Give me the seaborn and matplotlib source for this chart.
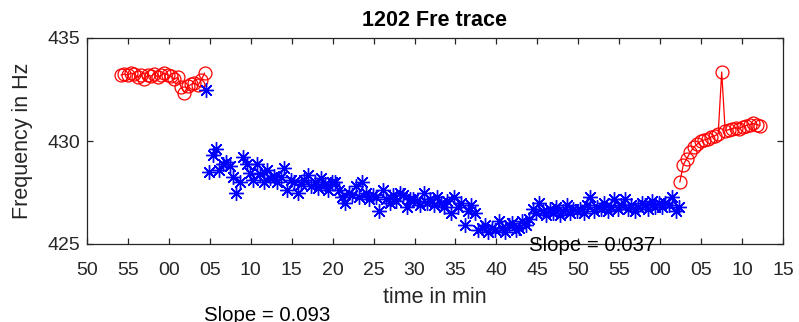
import numpy as np
import pandas as pd
import matplotlib
matplotlib.use("Agg")
import matplotlib.pyplot as plt
import seaborn as sns

# ---------------- data ----------------
title = "1202 Fre trace"
xlabel = "time in min"
ylabel = "Frequency in Hz"
xtick_labels = ["50", "55", "00", "05", "10", "15", "20", "25", "30", "35",
                "40", "45", "50", "55", "00", "05", "10", "15"]
ytick_values = [425, 430, 435]

red1_start, red1_end = 4.15, 14.35
red1_vals = [433.2, 433.25, 433.2, 433.3, 433.25, 433.1, 433.2, 433.0, 433.2,
             433.15, 433.25, 433.1, 433.2, 433.3, 433.2, 433.15, 433.0, 433.1,
             432.6, 432.35, 432.65, 432.75, 432.8, 432.7, 432.95, 433.3]

blue_start, blue_end = 14.5, 72.3
blue_vals = [
    432.5, 428.5,
    429.3, 429.6, 428.6, 428.9, 429.0, 428.8, 428.25, 427.5, 428.0, 429.2, 428.9, 428.45,
    428.1, 428.9, 428.4, 428.0, 428.6, 428.2, 428.3, 428.0, 428.25, 428.7, 427.6, 428.1,
    428.0, 427.5, 427.9, 428.1, 428.35, 427.8, 428.0, 427.7, 428.2, 427.9, 427.6, 428.0,
    428.0, 427.6, 427.3, 427.0, 427.5, 427.4, 427.8, 427.3, 428.0, 427.5, 427.2, 427.4,
    427.3, 426.6, 427.6, 427.2, 427.0, 427.4, 427.1, 427.5, 427.4, 426.8, 427.2, 427.2,
    427.1, 426.9, 427.5, 427.0, 427.2, 426.9, 427.3, 427.0, 426.8, 427.1, 426.5, 427.3,
    426.8, 427.0, 425.9, 426.6, 426.9, 426.5, 425.7, 425.8, 425.9, 425.6, 425.8, 425.7,
    426.1, 425.8, 425.6, 425.9, 426.0, 425.7, 425.8, 426.1, 425.9, 426.2, 426.7, 426.5,
    427.0, 426.6, 426.4, 426.7, 426.5, 426.8, 426.4, 426.6, 426.9, 426.5, 426.7, 426.6,
    426.7, 426.5, 426.9, 427.3, 426.6, 426.8, 426.7, 427.0, 426.6, 426.8, 427.2, 426.7,
    426.9, 427.2, 426.7, 426.9, 426.6, 426.8, 427.0, 426.9, 426.7, 427.1, 426.8, 427.0,
    426.8, 427.0, 426.9, 427.3, 426.6, 426.8,
]

red2_start, red2_end = 72.4, 82.2
red2_vals = [428.0, 428.85, 429.15, 429.45, 429.7, 429.85, 430.0, 430.05, 430.1,
             430.2, 430.25, 430.35, 433.35, 430.5, 430.55, 430.6, 430.65, 430.6,
             430.7, 430.75, 430.8, 430.85, 430.8, 430.75]

slope_texts = ["Slope = 0.093", "Slope = 0.037"]
slope_x = [22.0, 61.7]
slope_y = [421.55, 424.95]

# ---------------- frames ----------------
red1 = pd.DataFrame({"t": np.linspace(red1_start, red1_end, len(red1_vals)), "f": red1_vals})
blue = pd.DataFrame({"t": np.linspace(blue_start, blue_end, len(blue_vals)), "f": blue_vals})
red2 = pd.DataFrame({"t": np.linspace(red2_start, red2_end, len(red2_vals)), "f": red2_vals})

# ---------------- plot ----------------
sns.set_theme(style="white")
plt.rcParams["font.family"] = ["Liberation Sans", "DejaVu Sans"]
axcol = (0.15, 0.15, 0.15)

fig = plt.figure(figsize=(7.99, 3.22), dpi=100)
ax = fig.add_axes([87 / 799, 1 - 244 / 322, 696 / 799, 206 / 322])

for df in (red1, red2):
    sns.lineplot(data=df, x="t", y="f", ax=ax, sort=False, estimator=None,
                 color="red", linewidth=0.9, marker="o", markersize=9.3,
                 markerfacecolor="none", markeredgecolor="red",
                 markeredgewidth=0.9)

sns.lineplot(data=blue, x="t", y="f", ax=ax, sort=False, estimator=None,
             color="blue", linestyle="", marker=(8, 2, 0), markersize=10.5,
             markeredgewidth=1.0, markeredgecolor="blue")

ax.set_xlim(0, 85)
ax.set_ylim(425, 435)
ax.set_xticks(np.arange(0, 86, 5))
ax.set_xticklabels(xtick_labels)
ax.set_yticks(ytick_values)

for s in ax.spines.values():
    s.set_color(axcol)
    s.set_linewidth(0.9)
    s.set_visible(True)
ax.tick_params(direction="in", length=4.5, width=0.9, colors=axcol,
               labelsize=14, top=True, right=True, bottom=True, left=True,
               labelcolor=axcol)
ax.tick_params(axis="x", pad=13)
ax.tick_params(axis="y", pad=5)

ax.set_title(title, fontsize=15.5, fontweight="bold", color="black", pad=9)
ax.set_xlabel(xlabel, fontsize=15.5, color=axcol, labelpad=6)
ax.set_ylabel(ylabel, fontsize=15.5, color=axcol, labelpad=10)
ax.grid(False)

for txt, tx, ty in zip(slope_texts, slope_x, slope_y):
    ax.text(tx, ty, txt, ha="center", va="center", fontsize=14.7,
            color="black", clip_on=False)

fig.savefig("out.png", dpi=100)
